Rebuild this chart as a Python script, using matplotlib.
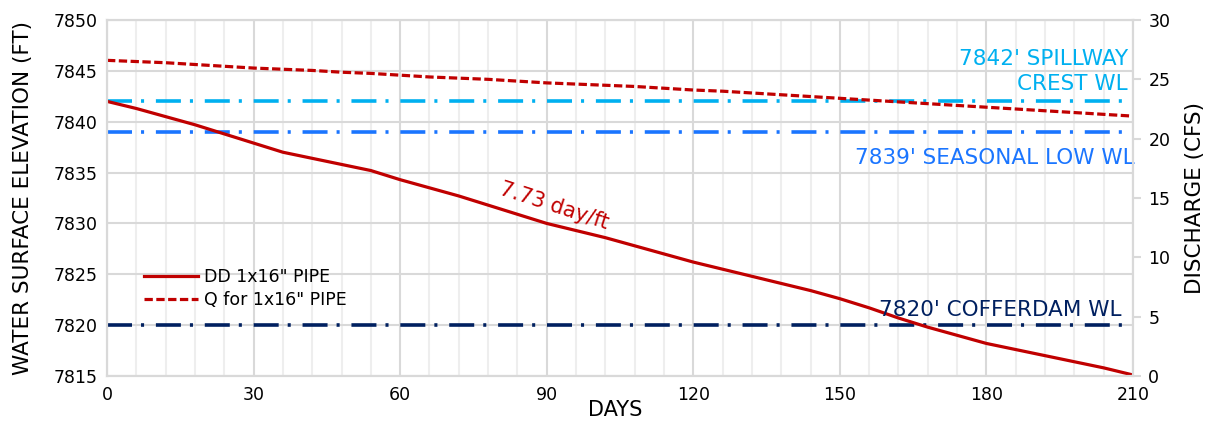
import matplotlib
matplotlib.use("Agg")
import matplotlib.pyplot as plt
from matplotlib.ticker import MultipleLocator

plt.rcParams['font.family'] = ['DejaVu Sans']
plt.rcParams['lines.scale_dashes'] = False

# days since start of drawdown
days = [0, 6, 12, 18, 24, 30, 36, 42, 48, 54, 60, 66, 72, 78, 84, 90, 96, 102,
        108, 114, 120, 126, 132, 138, 144, 150, 156, 162, 168, 174, 180, 186,
        192, 198, 204, 210]

# water surface elevation (ft) for 1x16" pipe drawdown
dd_elev = [7842.0, 7841.3, 7840.5, 7839.7, 7838.8, 7837.9, 7837.0, 7836.4,
           7835.8, 7835.2, 7834.3, 7833.5, 7832.7, 7831.8, 7830.9, 7830.0,
           7829.3, 7828.6, 7827.8, 7827.0, 7826.2, 7825.5, 7824.8, 7824.1,
           7823.4, 7822.6, 7821.7, 7820.7, 7819.8, 7819.0, 7818.2, 7817.6,
           7817.0, 7816.4, 7815.8, 7815.1]

# discharge (cfs) through the pipe
q_cfs = [26.6, 26.5, 26.4, 26.25, 26.1, 25.95, 25.85, 25.75, 25.6, 25.5,
         25.35, 25.2, 25.1, 25.0, 24.85, 24.7, 24.6, 24.5, 24.4, 24.25, 24.1,
         24.0, 23.85, 23.7, 23.55, 23.4, 23.25, 23.1, 22.95, 22.8, 22.65, 22.5,
         22.35, 22.2, 22.05, 21.9]

# reference water levels
ref_levels = [7842, 7839, 7820]
ref_colors = ['#00B0F0', '#1A75FF', '#002060']
ref_labels = ["7842' SPILLWAY\nCREST WL", "7839' SEASONAL LOW WL", "7820' COFFERDAM WL"]

rate_label = "7.73 day/ft"

DARKRED = '#C00000'
GRID = '#D9D9D9'

fig = plt.figure(figsize=(12.09, 4.23), dpi=100)
ax = fig.add_axes([107 / 1209, 1 - 376 / 423, 1026 / 1209, 356 / 423])
ax2 = ax.twinx()

ax.set_xlim(0, 210)
ax.set_ylim(7815, 7850)
ax2.set_ylim(0, 30)

ax.xaxis.set_major_locator(MultipleLocator(30))
ax.xaxis.set_minor_locator(MultipleLocator(6))
ax.yaxis.set_major_locator(MultipleLocator(5))
ax2.yaxis.set_major_locator(MultipleLocator(5))

ax.grid(which='major', color=GRID, lw=1.5)
ax.grid(which='minor', axis='x', color='#EEEEEE', lw=1.5)
ax.set_axisbelow(True)

for a in (ax, ax2):
    for s in a.spines.values():
        s.set_color(GRID)
        s.set_linewidth(1.5)

ax.tick_params(axis='both', which='both', length=0, labelsize=12.5, pad=7)
ax2.tick_params(axis='y', length=6, color=GRID, width=1.5, labelsize=12.5, pad=5)

# reference levels
dashdot = (0, (18, 6.5, 2.2, 8.5))
for lvl, c in zip(ref_levels, ref_colors):
    ax.axhline(lvl, color=c, lw=2.6, linestyle=dashdot)

ln1, = ax.plot(days, dd_elev, color=DARKRED, lw=2.3, label='DD 1x16" PIPE')
ln2, = ax2.plot(days, q_cfs, color=DARKRED, lw=2.3, linestyle=(0, (6, 2.5)),
                label='Q for 1x16" PIPE')

ax.text(209, 7844.95, ref_labels[0], color=ref_colors[0], fontsize=15.5,
        ha='right', va='center', multialignment='right', linespacing=1.35)
ax.text(210.4, 7836.43, ref_labels[1], color=ref_colors[1], fontsize=15.5,
        ha='right', va='center')
ax.text(207.7, 7821.5, ref_labels[2], color=ref_colors[2], fontsize=15.5,
        ha='right', va='center')
ax.text(91.5, 7831.7, rate_label, color=DARKRED, fontsize=15, rotation=-18,
        ha='center', va='center', rotation_mode='anchor')

ax2.legend(handles=[ln1, ln2], loc='upper left', bbox_to_anchor=(0.029, 0.324),
           frameon=False, fontsize=12.5, handlelength=3.1, handletextpad=0.35,
           labelspacing=0.3, borderaxespad=0)

ax.set_xlabel('DAYS', fontsize=15)
ax.xaxis.set_label_coords(0.495, -0.068)
ax.set_ylabel('WATER SURFACE ELEVATION (FT)', fontsize=15.5)
ax.yaxis.set_label_coords(-0.072, 0.5)
ax2.set_ylabel('DISCHARGE (CFS)', fontsize=15.5)
ax2.yaxis.set_label_coords(1.051, 0.5)

fig.savefig('out.png', dpi=100)
